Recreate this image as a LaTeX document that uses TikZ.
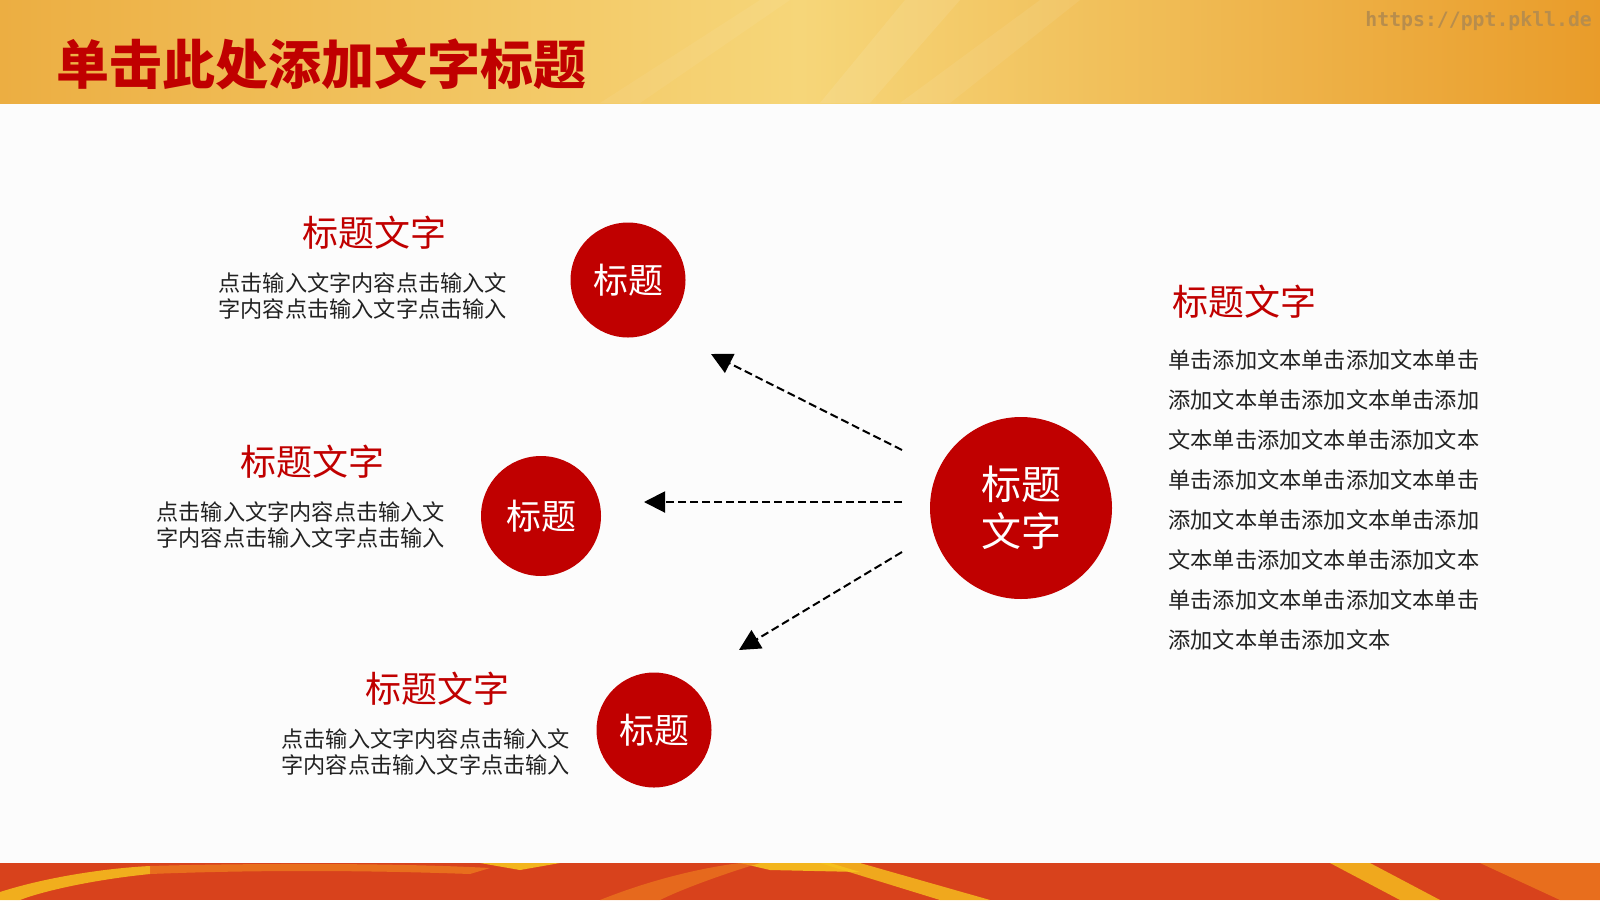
\documentclass[tikz,border=0pt]{standalone}
\usepackage{fontspec}
\setmainfont{Noto Sans CJK SC}
\newfontfamily\urlfont{DejaVu Sans Mono}
\usepackage{tikz}
\usetikzlibrary{arrows.meta}
\usetikzlibrary{positioning}

\definecolor{deepred}{HTML}{C00000}
\definecolor{bodygray}{HTML}{222222}
\definecolor{hdleft}{HTML}{ECAE42}
\definecolor{hdmid}{HTML}{F6D679}
\definecolor{hdright}{HTML}{E99C2A}
\definecolor{wmark}{HTML}{B88D4C}
\definecolor{ftred}{HTML}{D8421C}
\definecolor{ftgold}{HTML}{F6C21E}
\definecolor{ftorange}{HTML}{EC7A1E}

\begin{document}
\begin{tikzpicture}[x=0.5pt, y=-0.5pt,
    dot/.style={circle, fill=deepred, text=white, inner sep=0pt, align=center},
    headline/.style={text=deepred, inner sep=0pt, font=\fontsize{18}{22}\selectfont},
    body/.style={text=bodygray, inner sep=0pt, align=left, anchor=west},
    link/.style={black, line width=1pt, dash pattern=on 4pt off 2pt,
        -{Triangle[length=10.5pt, width=10.5pt]}}]
            \useasboundingbox (0,0) rectangle (1600,900);
            \fill[white!99!black] (0,0) rectangle (1600,900);

            % header band
            \shade[left color=hdleft, right color=hdright, middle color=hdmid] (0,0) rectangle (1600,103);
            \fill[white, opacity=0.09] (820,103) -- (905,0) -- (960,0) -- (870,103) -- cycle;
            \fill[white, opacity=0.07] (900,103) -- (1040,0) -- (1080,0) -- (950,103) -- cycle;
            \fill[white, opacity=0.06] (600,103) -- (760,0) -- (790,0) -- (640,103) -- cycle;

            % footer band
            \fill[ftred] (0,863) rectangle (1600,900);
            \fill[ftgold, opacity=0.85] (0,892) .. controls (50,876) and (110,868) .. (150,866) -- (150,874) .. controls (90,880) and (40,892) .. (20,900) -- (0,900) -- cycle;
            \fill[ftorange, opacity=0.8] (150,866) .. controls (250,863) and (400,863) .. (490,868) -- (470,874) .. controls (360,870) and (250,870) .. (150,874) -- cycle;
            \fill[ftgold, opacity=0.9] (480,863) -- (560,863) -- (520,870) -- cycle;
            \fill[ftgold, opacity=0.9] (740,863) -- (830,863) -- (860,872) -- (770,870) -- cycle;
            \fill[ftgold, opacity=0.8] (820,863) -- (860,863) -- (990,900) -- (940,900) -- cycle;
            \fill[ftorange, opacity=0.7] (600,900) .. controls (650,880) and (700,868) .. (740,863) -- (760,863) .. controls (720,875) and (680,890) .. (660,900) -- cycle;
            \fill[ftgold, opacity=0.8] (1330,863) -- (1370,863) -- (1440,900) -- (1400,900) -- cycle;
            \fill[ftorange, opacity=0.8] (1480,863) -- (1600,863) -- (1600,900) -- (1560,900) -- cycle;

            % title and watermark
            \node[anchor=west, text=deepred, inner sep=0pt, font=\fontsize{26.5}{30}\selectfont\bfseries] (title) at (56,64) {单击此处添加文字标题};
            \node[anchor=west, text=wmark, inner sep=0pt, font=\urlfont\bfseries\fontsize{9.9}{12}\selectfont] (url) at (1365,21) {https://ppt.pkll.de};

            % circles
            \node[dot, minimum size=91pt, font=\fontsize{20}{23.5}\selectfont] (hub) at (1021,508) {标题\\文字};
            \node[dot, minimum size=57.5pt, font=\fontsize{17.5}{20}\selectfont] (c1) at (628,280) {标题};
            \node[dot, minimum size=60pt, font=\fontsize{17.5}{20}\selectfont] (c2) at (541,516) {标题};
            \node[dot, minimum size=57.5pt, font=\fontsize{17.5}{20}\selectfont] (c3) at (654,730) {标题};

            % arrow ends
            \coordinate (s1) at (902,450);
            \coordinate (e1) at (711,354);
            \coordinate (s2) at (902,502);
            \coordinate (e2) at (644,502);
            \coordinate (s3) at (902,552);
            \coordinate (e3) at (739,650);

            \draw[link] (s1) -- (e1);
            \draw[link] (s2) -- (e2);
            \draw[link] (s3) -- (e3);

            % texts beside the small circles
            \node[headline] (h1) at (374,233) {标题文字};
            \node[body, font=\fontsize{11.1}{13}\selectfont] (t1) at (218,296) {点击输入文字内容点击输入文\\字内容点击输入文字点击输入};

            \node[headline] (h2) at (312,462) {标题文字};
            \node[body, font=\fontsize{11.1}{13}\selectfont] (t2) at (156,525) {点击输入文字内容点击输入文\\字内容点击输入文字点击输入};

            \node[headline] (h3) at (437,689) {标题文字};
            \node[body, font=\fontsize{11.1}{13}\selectfont] (t3) at (281,752) {点击输入文字内容点击输入文\\字内容点击输入文字点击输入};

            % text beside the big circle
            \node[headline, anchor=west] (h4) at (1172,302) {标题文字};
            \node[body, font=\fontsize{11.1}{20}\selectfont] (t4) at (1168,500) {单击添加文本单击添加文本单击\\添加文本单击添加文本单击添加\\文本单击添加文本单击添加文本\\单击添加文本单击添加文本单击\\添加文本单击添加文本单击添加\\文本单击添加文本单击添加文本\\单击添加文本单击添加文本单击\\添加文本单击添加文本};
        \end{tikzpicture}
\end{document}
